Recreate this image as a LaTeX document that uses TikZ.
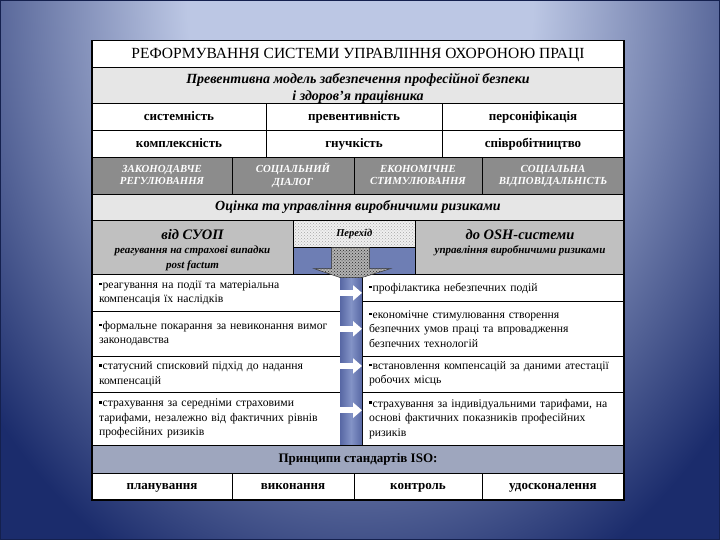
\documentclass[tikz,border=0pt]{standalone}
\usepackage{fontspec}
\setmainfont{Liberation Serif}
\usetikzlibrary{patterns,arrows.meta}

\definecolor{bgLight}{HTML}{BCC7E4}
\definecolor{bgDark}{HTML}{1B2C6C}
\definecolor{bgEdge}{HTML}{14204E}
\definecolor{rowGray}{HTML}{E6E6E6}
\definecolor{darkGray}{HTML}{8C8C8C}
\definecolor{midGray}{HTML}{C0C0C0}
\definecolor{transBlue}{HTML}{6E7EB4}
\definecolor{chanBlue}{HTML}{5767A4}
\definecolor{chanLight}{HTML}{8393C6}
\definecolor{isoGray}{HTML}{9EA6BE}

\pgfdeclareradialshading{slideglow}{\pgfpoint{0bp}{0bp}}{color(0bp)=(bgLight); color(9bp)=(bgLight); color(25bp)=(bgDark); color(50bp)=(bgDark)}

\newcommand{\sqbullet}{\rule[3pt]{2.6pt}{2.6pt}\kern1pt}

\begin{document}
\begin{tikzpicture}[x=1pt, y=-1pt,
    cell/.style={draw=black, line width=0.7pt, anchor=north west, inner sep=0pt, outer sep=0pt, align=center},
    boldtxt/.style={font=\fontsize{13}{15}\selectfont\bfseries, text height=9.5pt, text depth=3pt},
    bitxt/.style={font=\fontsize{14}{17.3}\selectfont\bfseries\itshape},
    capsrow/.style={cell, fill=darkGray, text=white, font=\fontsize{10.8}{12.7}\selectfont\bfseries\itshape, minimum height=36.5pt},
    listcell/.style={cell, fill=white, align=left, inner xsep=7pt, font=\fontsize{11.7}{14.5}\selectfont},
    chanarrow/.style={white, line width=6pt, -{Triangle[length=9pt, width=15pt]}}]

    % Slide background
    \useasboundingbox (0,0) rectangle (720,540);
    \fill[bgDark] (0,0) rectangle (720,540);
    \begin{scope}
        \clip (0,0) rectangle (720,540);
        \shade[shading=slideglow] (360,0) ellipse (480 and 640);
    \end{scope}
    \draw[line width=2pt, bgEdge] (0,0) rectangle (720,540);

    % Title and model
    \node[cell, fill=white, minimum width=532pt, minimum height=26.5pt, font=\fontsize{15.5}{17}\selectfont, text height=10.5pt, text depth=2pt] (title) at (92,40.7) {РЕФОРМУВАННЯ СИСТЕМИ УПРАВЛІННЯ ОХОРОНОЮ ПРАЦІ};
    \node[cell, fill=rowGray, minimum width=532pt, minimum height=36.2pt] (model) at (92,67.2) {};
    \node[bitxt, align=center] (modelTxt) at (358,88.5) {Превентивна модель забезпечення професійної безпеки\\і здоров'я працівника};

    % Principles
    \node[cell, boldtxt, fill=white, minimum width=174pt, minimum height=26.9pt] (sys) at (92,103.4) {системність};
    \node[cell, boldtxt, fill=white, minimum width=176pt, minimum height=26.9pt] (prev) at (266,103.4) {превентивність};
    \node[cell, boldtxt, fill=white, minimum width=182pt, minimum height=26.9pt] (pers) at (442,103.4) {персоніфікація};
    \node[cell, boldtxt, fill=white, minimum width=174pt, minimum height=27.3pt] (kompl) at (92,130.3) {комплексність};
    \node[cell, boldtxt, fill=white, minimum width=176pt, minimum height=27.3pt] (gnuch) at (266,130.3) {гнучкість};
    \node[cell, boldtxt, fill=white, minimum width=182pt, minimum height=27.3pt] (spivr) at (442,130.3) {співробітництво};

    % Instruments
    \node[capsrow, minimum width=140pt] (zakon) at (92,157.6) {\strut ЗАКОНОДАВЧЕ\\РЕГУЛЮВАННЯ\strut};
    \node[capsrow, minimum width=122pt] (dialog) at (232,157.6) {\strut СОЦІАЛЬНИЙ\\ДІАЛОГ\strut};
    \node[capsrow, minimum width=128pt] (econ) at (354,157.6) {\strut ЕКОНОМІЧНЕ\\СТИМУЛЮВАННЯ\strut};
    \node[capsrow, minimum width=142pt] (resp) at (482,157.6) {\strut СОЦІАЛЬНА\\ВІДПОВІДАЛЬНІСТЬ\strut};

    \node[cell, bitxt, fill=rowGray, minimum width=532pt, minimum height=26.6pt, text height=10pt, text depth=3pt] (risk) at (92,194.1) {Оцінка та управління виробничими ризиками};

    % Transition row
    \node[cell, fill=midGray, minimum width=201pt, minimum height=54.1pt] (fromSUOP) at (92,220.7) {};
    \node[cell, fill=transBlue, minimum width=122.5pt, minimum height=54.1pt] (trans) at (293,220.7) {};
    \node[cell, fill=midGray, minimum width=208.5pt, minimum height=54.1pt] (toOSH) at (415.5,220.7) {};
    \node[cell, preaction={fill=gray!12}, pattern=crosshatch dots, pattern color=gray!70, minimum width=122.5pt, minimum height=26.9pt, font=\fontsize{10.5}{12}\selectfont\bfseries\itshape] (transTop) at (293,220.7) {Перехід};

    \node[font=\fontsize{14.5}{16}\selectfont\bfseries\itshape] (fromHead) at (192.5,234.5) {від СУОП};
    \node[font=\fontsize{11}{14.5}\selectfont\bfseries\itshape, align=center] (fromNote) at (192.5,258.5) {реагування на страхові випадки\\post factum};
    \node[font=\fontsize{14.5}{16}\selectfont\bfseries\itshape] (toHead) at (520,234.5) {до OSH-системи};
    \node[font=\fontsize{11}{13}\selectfont\bfseries\itshape] (toNote) at (520,251) {управління виробничими ризиками};

    % Old practice
    \node[listcell, text width=234pt, minimum height=36.2pt] (oldA) at (92,274.8) {\sqbullet реагування на події та матеріальна\\компенсація їх наслідків};
    \node[listcell, text width=234pt, minimum height=44.9pt] (oldB) at (92,311) {\sqbullet формальне покарання за невиконання вимог\\законодавства};
    \node[listcell, text width=234pt, minimum height=36.1pt] (oldC) at (92,355.9) {\sqbullet статусний списковий підхід до надання\\компенсацій};
    \node[listcell, text width=234pt, minimum height=53.5pt] (oldD) at (92,392) {\sqbullet страхування за середніми страховими\\тарифами, незалежно від фактичних рівнів\\професійних ризиків};

    % New practice
    \node[listcell, text width=248pt, minimum height=26.9pt] (newA) at (362,274.8) {\sqbullet профілактика небезпечних подій};
    \node[listcell, text width=248pt, minimum height=54.2pt] (newB) at (362,301.7) {\sqbullet економічне стимулювання створення\\безпечних умов праці та впровадження\\безпечних технологій};
    \node[listcell, text width=248pt, minimum height=36.1pt] (newC) at (362,355.9) {\sqbullet встановлення компенсацій за даними атестації\\робочих місць};
    \node[listcell, text width=248pt, minimum height=53.5pt] (newD) at (362,392) {\sqbullet страхування за індивідуальними тарифами, на\\основі фактичних показників професійних\\ризиків};

    % Channel with arrows
    \shade[left color=chanBlue, right color=chanBlue, middle color=chanLight] (oldA.north east) rectangle (newD.south west);
    \draw[chanarrow] (oldA.east) -- (oldA.east -| newA.west);
    \draw[chanarrow] (newB.west -| oldB.east) -- (newB.west);
    \draw[chanarrow] ([yshift=8pt]oldC.east) -- ([yshift=8pt]newC.west);
    \draw[chanarrow] ([yshift=8.5pt]oldD.east) -- ([yshift=8.5pt]newD.west);

    % Transition arrow
    \filldraw[line width=0.5pt, draw=black!80, preaction={fill=gray!60}, pattern=crosshatch dots, pattern color=black!85]
        (331.5,247.6) -- (369.6,247.6) -- (369.6,268.5) -- (391,268.5) -- (362,277.5)
        -- (340,277.5) -- (313.6,268.5) -- (331.5,268.5) -- cycle;

    % ISO principles
    \node[cell, boldtxt, fill=isoGray, minimum width=532pt, minimum height=27.6pt] (iso) at (92,445.5) {Принципи стандартів ISO:};
    \node[cell, boldtxt, fill=white, minimum width=140pt, minimum height=26.9pt] (plan) at (92,473.1) {планування};
    \node[cell, boldtxt, fill=white, minimum width=122pt, minimum height=26.9pt] (exec) at (232,473.1) {виконання};
    \node[cell, boldtxt, fill=white, minimum width=128pt, minimum height=26.9pt] (ctrl) at (354,473.1) {контроль};
    \node[cell, boldtxt, fill=white, minimum width=142pt, minimum height=26.9pt] (impr) at (482,473.1) {удосконалення};

    % Outer frame
    \draw[line width=1.2pt] (title.north west) rectangle (impr.south east);
\end{tikzpicture}
\end{document}
